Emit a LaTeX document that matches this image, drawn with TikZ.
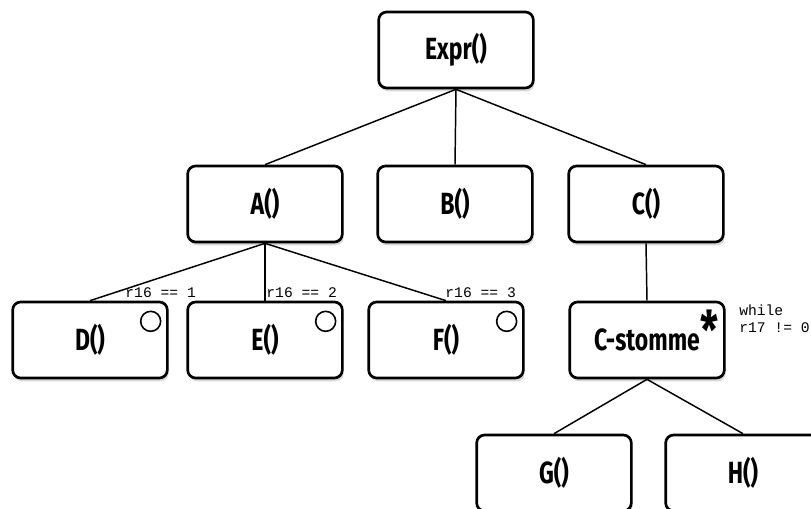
\documentclass[tikz,border=0pt]{standalone}
\usepackage{fontspec}
\newfontfamily\handfont[FakeStretch=0.75]{Fira Sans}
\setmonofont{Liberation Mono}
\usetikzlibrary{shadows}

\begin{document}
\begin{tikzpicture}[x=0.75pt, y=-0.75pt,
      call/.style={draw, line width=2pt, rounded corners=6pt, fill=white,
                   drop shadow={opacity=0.3, shadow xshift=1pt, shadow yshift=-2.5pt},
                   minimum width=116pt, minimum height=57pt,
                   font=\handfont\bfseries\fontsize{23}{23}\selectfont},
      link/.style={line width=1.1pt},
      cond/.style={font=\ttfamily\fontsize{11}{12.5}\selectfont, inner sep=0pt},
      ring/.style={draw, circle, line width=1.2pt, minimum size=15pt, inner sep=0pt}]
    \useasboundingbox (0,0) rectangle (811,509);
    \clip (0,0) rectangle (811,509);

    % call tree
    \node[call] (expr) at (456,50) {Expr()};
    \node[call] (a) at (265,204) {A()};
    \node[call] (b) at (455,204) {B()};
    \node[call] (c) at (646,204) {C()};
    \node[call] (d) at (90,340) {D()};
    \node[call] (e) at (265,340) {E()};
    \node[call] (f) at (446,340) {F()};
    \node[call] (cst) at (647,340) {C-stomme};
    \node[call] (g) at (554,473) {G()};
    \node[call] (h) at (743,473) {H()};

    \draw[link] (expr.south) -- (a.north);
    \draw[link] (expr.south) -- (b.north);
    \draw[link] (expr.south) -- (c.north);
    \draw[link] (a.south) -- (d.north)
      node[cond, at end, anchor=south west, xshift=26pt, yshift=1.5pt] {r16 == 1};
    \draw[link] (a.south) -- (e.north)
      node[cond, at end, anchor=south west, xshift=0.5pt, yshift=1.5pt] {r16 == 2};
    \draw[link] (a.south) -- (f.north)
      node[cond, at end, anchor=south west, xshift=-1pt, yshift=1.5pt] {r16 == 3};
    \draw[link] (c.south) -- (cst.north);
    \draw[link] (cst.south) -- (g.north);
    \draw[link] (cst.south) -- (h.north);

    % alternatives and loop
    \node[ring] (dring) at ([xshift=-13.5pt, yshift=-15.5pt]d.north east) {};
    \node[ring] (ering) at ([xshift=-13.5pt, yshift=-15.5pt]e.north east) {};
    \node[ring] (fring) at ([xshift=-13.5pt, yshift=-15.5pt]f.north east) {};
    \node[font=\handfont\bfseries\fontsize{40}{40}\selectfont, inner sep=0pt]
      (star) at ([xshift=-12.5pt, yshift=-22pt]cst.north east) {*};
    \node[cond, anchor=north west, align=left] (loop) at (739,305) {while\\r17 != 0};
\end{tikzpicture}
\end{document}
